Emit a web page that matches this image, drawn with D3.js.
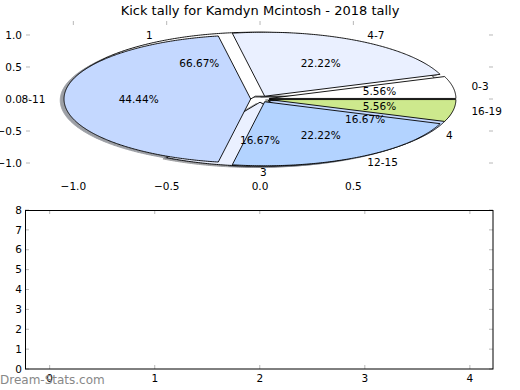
<!DOCTYPE html>
<html><head><meta charset="utf-8">
<script src="https://cdn.jsdelivr.net/npm/d3@7"></script>
<style>body{margin:0;background:#fff}svg{display:block}text{font-family:"DejaVu Sans",sans-serif}</style>
</head><body>
<script>
// ---- data ----
const title = "Kick tally for Kamdyn Mcintosh - 2018 tally";
const pie1Labels = ["1", "3", "4"];
const pie1Values = [4, 1, 1];
const pie1Colors = ["#ffffff", "#eaf0ff", "#c4d8ff"];
const pie2Labels = ["0-3", "4-7", "8-11", "12-15", "16-19"];
const pie2Values = [1, 4, 8, 4, 1];
const pie2Colors = ["#ffffff", "#eaf0ff", "#c4d8ff", "#b3d3ff", "#cde98d"];
const topXTicks = [-1.0, -0.5, 0.0, 0.5];
const topYTicks = [1.0, 0.5, 0.0, -0.5, -1.0];
const botXTicks = [0, 1, 2, 3, 4];
const botYTicks = [0, 1, 2, 3, 4, 5, 6, 7, 8];
const watermark = "Dream-Stats.com";

const W = 520, H = 390;
const svg = d3.select("body").append("svg").attr("width", W).attr("height", H);

// ---- top (pie) axes ----
const xT = d3.scaleLinear().domain([-1.2536, 1.248]).range([26, 493]);
const yT = d3.scaleLinear().domain([1.2187, -1.2187]).range([21, 177]);
const explode = 0.05, labelDist = 1.1, pctDist = 0.6;
const fmtTick = v => (v < 0 ? "\u2212" : "") + Math.abs(v).toFixed(1);
const tickCol = "#b8b8b8";

const gT = svg.append("g");
topXTicks.forEach(v => {
  gT.append("line").attr("x1", xT(v)).attr("x2", xT(v)).attr("y1", 21).attr("y2", 25).attr("stroke", tickCol);
});
topYTicks.forEach(v => {
  gT.append("line").attr("x1", 26).attr("x2", 30).attr("y1", yT(v)).attr("y2", yT(v)).attr("stroke", tickCol);
  gT.append("line").attr("x1", 489).attr("x2", 493).attr("y1", yT(v)).attr("y2", yT(v)).attr("stroke", tickCol);
});

const pieGen = d3.pie().sort(null).startAngle(0).endAngle(2 * Math.PI);
const line = d3.line();
function wedgePts(a, dx, dy) {
  const t1 = a.startAngle, t2 = a.endAngle, tm = (t1 + t2) / 2;
  const cx = explode * Math.cos(tm) + dx, cy = explode * Math.sin(tm) + dy;
  const pts = [[xT(cx), yT(cy)]];
  const n = Math.max(4, Math.ceil((t2 - t1) / 0.01));
  for (let i = 0; i <= n; i++) {
    const t = t1 + (t2 - t1) * i / n;
    pts.push([xT(cx + Math.cos(t)), yT(cy + Math.sin(t))]);
  }
  return line(pts) + "Z";
}
function dark(c) { const r = d3.rgb(c); return d3.rgb(r.r * 0.3, r.g * 0.3, r.b * 0.3).toString(); }

const pies = [
  { arcs: pieGen(pie1Values), labels: pie1Labels, colors: pie1Colors, values: pie1Values },
  { arcs: pieGen(pie2Values), labels: pie2Labels, colors: pie2Colors, values: pie2Values }
];
pies.forEach(p => {
  gT.selectAll(null).data(p.arcs).enter().append("path")
    .attr("d", a => wedgePts(a, -0.02, -0.02))
    .attr("fill", (a, i) => dark(p.colors[i])).attr("stroke", (a, i) => dark(p.colors[i]))
    .attr("opacity", 0.5);
});
pies.forEach(p => {
  gT.selectAll(null).data(p.arcs).enter().append("path")
    .attr("d", a => wedgePts(a, 0, 0))
    .attr("fill", (a, i) => p.colors[i]).attr("stroke", "#000").attr("stroke-width", 0.9)
    .attr("stroke-linejoin", "round");
});
pies.forEach(p => {
  const total = d3.sum(p.values);
  p.arcs.forEach((a, i) => {
    const tm = (a.startAngle + a.endAngle) / 2;
    const cx = explode * Math.cos(tm), cy = explode * Math.sin(tm);
    const lx = cx + labelDist * Math.cos(tm), ly = cy + labelDist * Math.sin(tm);
    gT.append("text").attr("x", xT(lx)).attr("y", yT(ly)).attr("dy", "0.35em")
      .attr("text-anchor", lx > -1e-9 ? "start" : "end").attr("font-size", 10.5).attr("fill", "#000")
      .text(p.labels[i]);
    const px = cx + pctDist * Math.cos(tm), py = cy + pctDist * Math.sin(tm);
    gT.append("text").attr("x", xT(px)).attr("y", yT(py)).attr("dy", "0.35em")
      .attr("text-anchor", "middle").attr("font-size", 10.5).attr("fill", "#000")
      .text((100 * p.values[i] / total).toFixed(2) + "%");
  });
});
topXTicks.forEach(v => {
  gT.append("text").attr("x", xT(v)).attr("y", 186).attr("dy", "0.35em").attr("text-anchor", "middle")
    .attr("font-size", 10.5).text(fmtTick(v));
});
topYTicks.forEach(v => {
  gT.append("text").attr("x", 22).attr("y", yT(v)).attr("dy", "0.35em").attr("text-anchor", "end")
    .attr("font-size", 10.5).text(fmtTick(v));
});

svg.append("text").attr("x", 260).attr("y", 10).attr("dy", "0.35em").attr("text-anchor", "middle")
  .attr("font-size", 13).text(title);

// ---- bottom axes ----
const xB = d3.scaleLinear().domain([-0.235, 4.22]).range([25, 493]);
const yB = d3.scaleLinear().domain([0, 8]).range([369, 210]);
const gB = svg.append("g");
botXTicks.forEach(v => {
  gB.append("line").attr("x1", xB(v)).attr("x2", xB(v)).attr("y1", 210).attr("y2", 214).attr("stroke", tickCol);
  gB.append("line").attr("x1", xB(v)).attr("x2", xB(v)).attr("y1", 365).attr("y2", 369).attr("stroke", tickCol);
  gB.append("text").attr("x", xB(v)).attr("y", 378).attr("dy", "0.35em").attr("text-anchor", "middle")
    .attr("font-size", 10.5).text(v);
});
botYTicks.forEach(v => {
  gB.append("line").attr("x1", 25).attr("x2", 29).attr("y1", yB(v)).attr("y2", yB(v)).attr("stroke", tickCol);
  gB.append("line").attr("x1", 489).attr("x2", 493).attr("y1", yB(v)).attr("y2", yB(v)).attr("stroke", tickCol);
  gB.append("text").attr("x", 22).attr("y", yB(v)).attr("dy", "0.35em").attr("text-anchor", "end")
    .attr("font-size", 10.5).text(v);
});
gB.append("rect").attr("x", 25.5).attr("y", 210.5).attr("width", 467.5).attr("height", 158.5)
  .attr("fill", "none").attr("stroke", "#000").attr("stroke-width", 1);

svg.append("text").attr("x", 0).attr("y", 380).attr("dy", "0.35em").attr("font-size", 12)
  .attr("fill", "#888").text(watermark);
</script>
</body></html>
